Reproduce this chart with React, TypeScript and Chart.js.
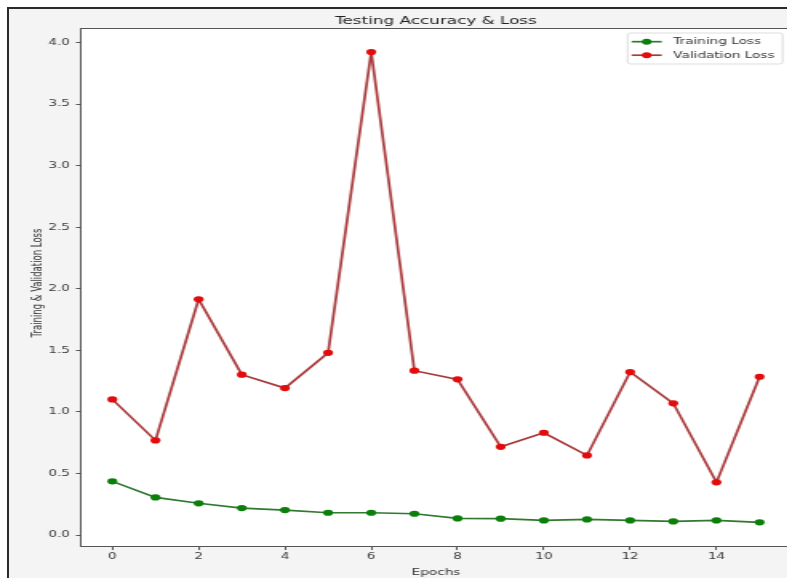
import React, { useEffect, useRef } from "react";
import { Chart, registerables } from "chart.js";

Chart.register(...registerables);

// ---- data ----
const epochs = [0, 1, 2, 3, 4, 5, 6, 7, 8, 9, 10, 11, 12, 13, 14, 15];
const trainingLoss = [0.436, 0.306, 0.258, 0.219, 0.203, 0.181, 0.181, 0.173, 0.135, 0.133, 0.119, 0.127, 0.119, 0.111, 0.119, 0.103];
const validationLoss = [1.102, 0.769, 1.915, 1.303, 1.194, 1.48, 3.924, 1.335, 1.265, 0.717, 0.831, 0.647, 1.324, 1.07, 0.428, 1.286];
const xTicks = [0, 2, 4, 6, 8, 10, 12, 14];
const yTicks = [0, 0.5, 1.0, 1.5, 2.0, 2.5, 3.0, 3.5, 4.0];
const seriesLabels = ["Training Loss", "Validation Loss"];
const chartTitle = "Testing Accuracy & Loss";
const xLabel = "Epochs";
const yLabel = "Training & Validation Loss";

// ---- layout / style ----
const SX = 1.6; // horizontal stretch of the picture
const W = 500;
const H = 578;
const FONT = '"DejaVu Sans", sans-serif';
const trainLine = "#2f7a2f";
const trainMarker = "#0a7f0a";
const valLine = "#a93a3c";
const valMarker = "#e30b0b";

const decorPlugin = {
  id: "decor",
  beforeDraw(chart: any) {
    const { ctx, chartArea: a } = chart;
    ctx.save();
    ctx.fillStyle = "#ffffff";
    ctx.fillRect(a.left, a.top, a.right - a.left, a.bottom - a.top);
    ctx.restore();
  },
  afterDraw(chart: any) {
    const { ctx, chartArea: a } = chart;
    ctx.save();
    // spines
    ctx.strokeStyle = "#555555";
    ctx.lineWidth = 1;
    ctx.strokeRect(a.left + 0.5, a.top + 0.5, a.right - a.left - 1, a.bottom - a.top);

    // title
    ctx.fillStyle = "#222222";
    ctx.font = `10.5px ${FONT}`;
    ctx.textAlign = "center";
    ctx.textBaseline = "alphabetic";
    ctx.fillText(chartTitle, (a.left + a.right) / 2, 23.5);

    // x label
    ctx.font = `8.5px ${FONT}`;
    ctx.fillStyle = "#333333";
    ctx.fillText(xLabel, (a.left + a.right) / 2, 575);

    // y label
    ctx.save();
    ctx.translate(23.5, (a.top + a.bottom) / 2 - 4);
    ctx.rotate(-Math.PI / 2);
    ctx.textAlign = "center";
    ctx.textBaseline = "middle";
    ctx.fillText(yLabel, 0, 0);
    ctx.restore();

    // legend
    const bx = 392.3, by = 33, bw = 96.9, bh = 31;
    ctx.fillStyle = "rgba(255,255,255,0.9)";
    ctx.strokeStyle = "#d4d4d4";
    ctx.lineWidth = 0.8;
    ctx.beginPath();
    ctx.roundRect(bx, by, bw, bh, 2);
    ctx.fill();
    ctx.stroke();
    const rows = [
      { label: seriesLabels[0], line: trainLine, marker: trainMarker, y: 41.7 },
      { label: seriesLabels[1], line: valLine, marker: valMarker, y: 55.2 },
    ];
    rows.forEach((r) => {
      ctx.strokeStyle = r.line;
      ctx.lineWidth = 1.7;
      ctx.beginPath();
      ctx.moveTo(394.8, r.y);
      ctx.lineTo(413.6, r.y);
      ctx.stroke();
      ctx.fillStyle = r.marker;
      ctx.beginPath();
      ctx.arc(404.2, r.y, 3, 0, Math.PI * 2);
      ctx.fill();
      ctx.fillStyle = "#333333";
      ctx.font = `8.5px ${FONT}`;
      ctx.textAlign = "left";
      ctx.textBaseline = "middle";
      ctx.fillText(r.label, 420.8, r.y + 0.5);
    });
    ctx.restore();
  },
};

export default function App() {
  const ref = useRef<HTMLCanvasElement | null>(null);

  useEffect(() => {
    const canvas = ref.current;
    if (!canvas) return;
    const chart = new Chart(canvas, {
      type: "line",
      data: {
        datasets: [
          {
            label: seriesLabels[0],
            data: epochs.map((e, i) => ({ x: e, y: trainingLoss[i] })),
            borderColor: trainLine,
            backgroundColor: trainMarker,
            pointBackgroundColor: trainMarker,
            pointBorderColor: trainMarker,
            pointRadius: 3.1,
            pointBorderWidth: 0,
            borderWidth: 1.7,
            tension: 0,
            fill: false,
          },
          {
            label: seriesLabels[1],
            data: epochs.map((e, i) => ({ x: e, y: validationLoss[i] })),
            borderColor: valLine,
            backgroundColor: valMarker,
            pointBackgroundColor: valMarker,
            pointBorderColor: valMarker,
            pointRadius: 3.1,
            pointBorderWidth: 0,
            borderWidth: 1.7,
            tension: 0,
            fill: false,
          },
        ],
      },
      options: {
        responsive: false,
        animation: false,
        devicePixelRatio: 1,
        layout: { padding: { left: 0, right: 5, top: 28, bottom: 0 } },
        plugins: {
          legend: { display: false },
          title: { display: false },
          tooltip: { enabled: false },
        },
        scales: {
          x: {
            type: "linear",
            min: -0.75,
            max: 15.75,
            afterBuildTicks: (axis: any) => {
              axis.ticks = xTicks.map((v) => ({ value: v }));
            },
            afterFit: (s: any) => {
              s.height = 32;
            },
            border: { display: false },
            grid: {
              display: true,
              drawOnChartArea: false,
              drawTicks: true,
              tickLength: 4,
              tickColor: "#555555",
              color: "#555555",
            },
            ticks: {
              font: { family: FONT, size: 8.5 },
              color: "#3a3a3a",
              padding: 2,
              maxRotation: 0,
              autoSkip: false,
              callback: (v: any) => String(v),
            },
          },
          y: {
            type: "linear",
            min: -0.089,
            max: 4.119,
            afterBuildTicks: (axis: any) => {
              axis.ticks = yTicks.map((v) => ({ value: v }));
            },
            afterFit: (s: any) => {
              s.width = 50;
            },
            border: { display: false },
            grid: {
              display: true,
              drawOnChartArea: false,
              drawTicks: true,
              tickLength: 2.5,
              tickColor: "#555555",
              color: "#555555",
            },
            ticks: {
              font: { family: FONT, size: 8.5 },
              color: "#3a3a3a",
              padding: 3.75,
              autoSkip: false,
              callback: (v: any) => Number(v).toFixed(1),
            },
          },
        },
      },
      plugins: [decorPlugin],
    } as any);
    return () => chart.destroy();
  }, []);

  return (
    <div
      style={{
        position: "fixed",
        left: 0,
        top: 0,
        width: 787,
        height: 578,
        overflow: "hidden",
        background: "#ffffff",
      }}
    >
      <div
        style={{
          position: "absolute",
          left: 7,
          top: 7,
          width: 820,
          height: 600,
          borderLeft: "2px solid #2b2b2b",
          borderTop: "2px solid #2b2b2b",
          background: "#f4f4f4",
        }}
      />
      <div
        style={{
          position: "absolute",
          left: 0,
          top: 0,
          width: W,
          height: H,
          transform: `scaleX(${SX})`,
          transformOrigin: "0 0",
        }}
      >
        <canvas ref={ref} width={W} height={H} style={{ width: W, height: H, display: "block" }} />
      </div>
    </div>
  );
}
